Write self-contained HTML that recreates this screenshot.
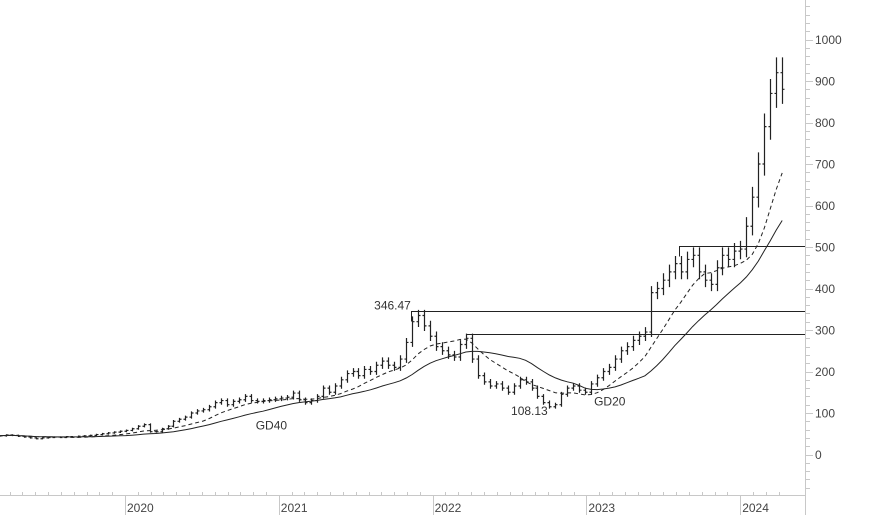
<!DOCTYPE html>
<html><head><meta charset="utf-8"><style>
html,body{margin:0;padding:0;background:#fff;}
svg{display:block;font-family:"Liberation Sans",sans-serif;}
</style></head><body>
<svg id="chart" width="874" height="515" xmlns="http://www.w3.org/2000/svg"></svg>
<script>
const closes = [45,47,46,44,42,40,38,40,41,42,41,43,42,44,45,46,
48,50,52,54,56, 58,62,68,72,55, 55,62,68,80,85, 90,100,105,108,115,
125,130,120,128,132, 140,130,128,130,132, 134,136,138,148,132,
125,130,140,160,150, 165,180,195,200,190, 205,200,215,225,215,
210,230,270,320,335, 310,285,260,250,240, 235,265,280,230,190,
175,165,170,160,150, 165,180,175,160,140, 125,115,120,145,160,
165,155,150,170,185, 200,210,230,250,260, 275,285,295,390,400,
420,440,460,440,470, 480,440,420,410,450, 480,470,490,495,550,
620,700,790,870,920,880];
const yTicks = [0,100,200,300,400,500,600,700,800,900,1000];
const years = ["2020","2021","2022","2023","2024"];
const yearVals = [2020,2021,2022,2023,2024];
const levels = [346.47,290,503];
const levelStart = [2021.86,2022.22,2023.60];
const annotations = [["346.47",2021.62,350],["108.13",2022.51,95],["GD20",2023.05,118],["GD40",2020.85,60]];
const startYear = 2019.19, stepYear = 0.0388;

const svg = document.getElementById('chart');
const NS = "http://www.w3.org/2000/svg";
const xOf = t => 125 + (t - 2020) * 153.8;
const yOf = v => 454.5 - 0.415 * v;
function mk(tag, attrs){const e=document.createElementNS(NS,tag);for(const k in attrs)e.setAttribute(k,attrs[k]);svg.appendChild(e);return e;}

const ax = mk('line',{x1:805.5,y1:0,x2:805.5,y2:515,stroke:'#c8c8c8'});


const bx = mk('line',{x1:0,y1:495.5,x2:805,y2:495.5,stroke:'#c8c8c8'});


for(let v=-80; v<=1080; v+=20){
  const y=Math.round(yOf(v))+0.5; if(y<2||y>493) continue;
  const major = v%100===0;
  const t = mk('line',{x1:805,y1:y,x2:major?813:810,y2:y,stroke:'#c8c8c8'});
  
  
}
yTicks.forEach(v=>{
  const t = mk('text',{x:815,y:yOf(v)+4.5,'font-size':12,fill:'#444'});
  t.textContent=v;
  
  
});
for(let m=0; m<64; m++){
  const t0 = 2019+m/12; const x=Math.round(xOf(t0))+0.5;
  if(x<0||x>805) continue;
  const isYear = m%12===0;
  const t = mk('line',{x1:x,y1:isYear?495:492,x2:x,y2:isYear?515:495,stroke:'#c8c8c8'});
  
  
}
years.forEach((s,i)=>{
  const t = mk('text',{x:xOf(yearVals[i])+2,y:512,'font-size':12,fill:'#444'});
  t.textContent=s;
  
  
});

levels.forEach((v,i)=>{
  const x=Math.round(xOf(levelStart[i]))+0.5, y=Math.round(yOf(v))+0.5;
  const p = mk('path',{d:`M${x},${y+10}V${y}H805`,stroke:'#222',fill:'none'});
  
  
});

closes.forEach((c,i)=>{
  const o = i>0?closes[i-1]:c;
  const hi = Math.max(o,c)*1.04, lo=Math.min(o,c)*0.96;
  const x = Math.round(xOf(startYear+i*stepYear))+0.5;
  const p = mk('path',{d:`M${x},${yOf(hi)}V${yOf(lo)}M${x-2},${yOf(o)}H${x}M${x},${yOf(c)}H${x+2}`,stroke:'#222','stroke-width':1.2,fill:'none'});
  
  
});

function ma(n){return closes.map((_,i)=>{const s=closes.slice(Math.max(0,i-n+1),i+1);return s.reduce((a,b)=>a+b,0)/s.length;});}
[[10,'4,3','gd20-line'],[20,'','gd40-line']].forEach(([n,dash,name])=>{
  const d = ma(n).map((v,i)=>(i?'L':'M')+xOf(startYear+i*stepYear).toFixed(1)+','+yOf(v).toFixed(1)).join('');
  const p = mk('path',{d:d,stroke:'#222',fill:'none','stroke-dasharray':dash});
  
  
});

annotations.forEach(a=>{
  const t = mk('text',{x:xOf(a[1]),y:yOf(a[2]),'font-size':12,fill:'#333'});
  t.textContent=a[0];
  
  
});
</script>
</body></html>
